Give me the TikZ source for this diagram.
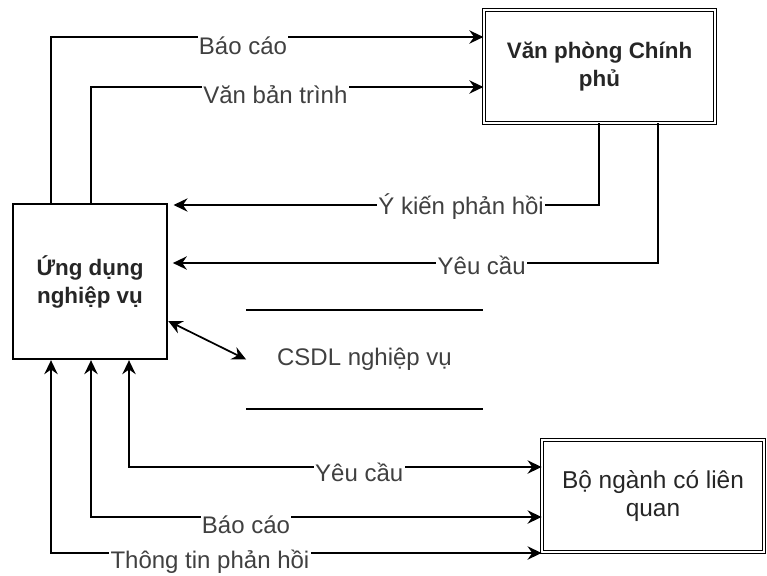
\documentclass[tikz,border=0pt]{standalone}
\usepackage{fontspec}
\setmainfont{Liberation Sans}
\usetikzlibrary{arrows.meta}

\begin{document}
\begin{tikzpicture}[x=0.75pt,y=-0.75pt,line width=1.3pt,
    >={Stealth[length=10.5pt,width=10pt,inset=3.5pt]},
    font=\fontsize{18}{21}\selectfont,
    lbl/.style={fill=white,inner sep=1pt,text=black!75},
    box/.style={draw,align=center,inner sep=0pt,text=black!85},
    dbox/.style={box,double,double distance=1.5pt,line width=0.95pt},
    bold/.style={font=\fontsize{16.8}{21}\selectfont\bfseries}]
    \useasboundingbox (0,0) rectangle (767,575);

    \node[dbox,bold,minimum width=173.25pt,minimum height=84.5pt] (vp) at (599.5,66.5) {Văn phòng Chính\\phủ};
    \node[box,bold,minimum width=116pt,minimum height=116.7pt] (ud) at (90,281.5) {Ứng dụng\\nghiệp vụ};
    \node[dbox,minimum width=166.2pt,minimum height=83.7pt,font=\fontsize{18.3}{21}\selectfont] (bn) at (653,496) {Bộ ngành có liên\\quan};
    \node[minimum width=176.25pt,minimum height=72.75pt,text=black!75] (db) at (364.5,359.5) {CSDL nghiệp vụ};
    \draw (db.north west) -- (db.north east) (db.south west) -- (db.south east);

    % to Van phong Chinh phu
    \draw[->] (ud.north -| 51,0) |- node[lbl,pos=0.722,yshift=-6.5pt] {Báo cáo} (vp.west |- 0,37);
    \draw[->] (ud.north -| 91,0) |- node[lbl,pos=0.735,yshift=-6pt] {Văn bản trình} (vp.west |- 0,87);

    % back to Ung dung
    \draw[->,shorten >=4pt] (vp.south -| 599,0) |- node[lbl,pos=0.66,yshift=-1.5pt] {Ý kiến phản hồi} (ud.east |- 0,205);
    \draw[->,shorten >=3.5pt] (vp.south -| 658,0) |- node[lbl,pos=0.68,yshift=-2pt] {Yêu cầu} (ud.east |- 0,263);

    \draw[<->] (ud.east |- 0,321) -- (db.west);

    % Bo nganh
    \draw[<->] (bn.west |- 0,467) -| node[lbl,pos=0.221,yshift=-4pt] {Yêu cầu} (ud.south -| 129,0);
    \draw[<->] (bn.west |- 0,517) -| node[lbl,pos=0.328,yshift=-6pt] {Báo cáo} (ud.south -| 91,0);
    \draw[<->] (bn.west |- 0,553) -| node[lbl,pos=0.338,yshift=-6.5pt] {Thông tin phản hồi} (ud.south -| 51,0);
\end{tikzpicture}
\end{document}
